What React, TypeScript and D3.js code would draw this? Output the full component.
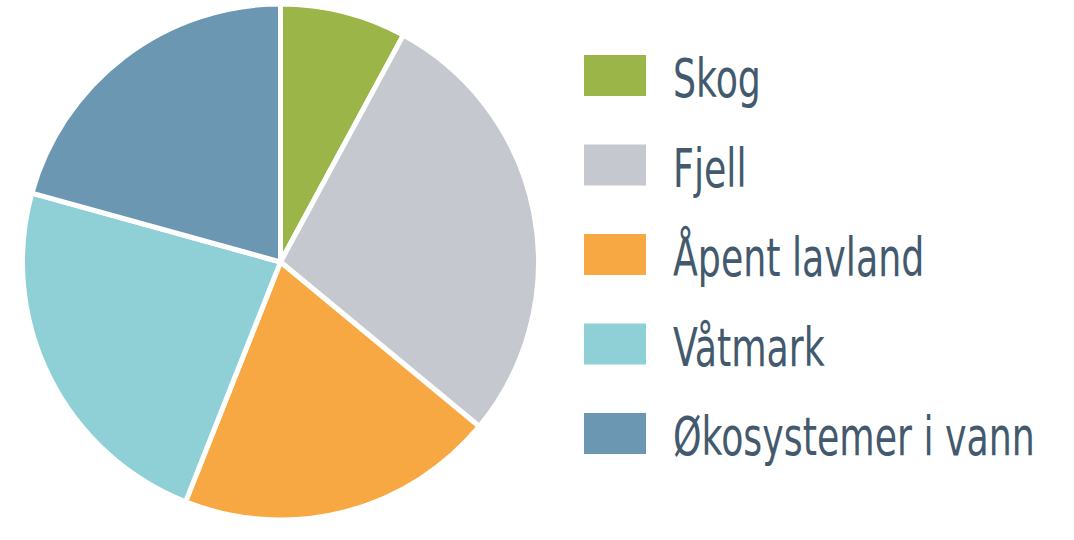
import React, { useLayoutEffect, useRef, useState } from "react";
import * as d3 from "d3";

const categories = ["Skog", "Fjell", "Åpent lavland", "Våtmark", "Økosystemer i vann"];
const values = [7.9, 28.1, 20.0, 23.3, 20.7];
const colors = ["#9bb548", "#c5c9cf", "#f7a843", "#8fd0d6", "#6b97b3"];

export default function App() {
  const width = 1074;
  const height = 540;
  const cx = 280.5;
  const cy = 262;
  const r = 258;
  const data = categories.map((c, i) => ({ name: c, value: values[i], color: colors[i] }));
  const pie = d3.pie<any>().value((d) => d.value).sort(null);
  const arc = d3.arc<any>().innerRadius(0).outerRadius(r);
  const arcs = pie(data);
  const legendY = d3.scaleLinear().domain([0, 4]).range([55, 413]);
  const measureRef = useRef<SVGTextElement>(null);
  const [sx, setSx] = useState(0.75);
  useLayoutEffect(() => {
    if (measureRef.current) {
      const w = measureRef.current.getComputedTextLength();
      if (w > 0) setSx(362 / w);
    }
  }, []);
  const fontFamily = "'DejaVu Sans Condensed', 'Liberation Sans Narrow', sans-serif";
  return (
    <svg width={width} height={height} style={{ position: "absolute", left: 0, top: 0 }}>
      <g transform={`translate(${cx},${cy})`}>
        {arcs.map((a, i) => (
          <path key={i} d={arc(a) as string} fill={a.data.color} stroke="#fff" strokeWidth={5} strokeLinejoin="round" />
        ))}
      </g>
      <text ref={measureRef} x={0} y={-100} fontFamily={fontFamily} fontSize={54} visibility="hidden">
        {categories[4]}
      </text>
      {data.map((d, i) => (
        <g key={i} transform={`translate(584,${legendY(i)})`}>
          <rect x={0} y={0} width={62} height={41} fill={d.color} />
          <g transform={`translate(89,42) scale(${sx},1)`}>
            <text x={0} y={0} fontFamily={fontFamily} fontSize={54} fill="#435a6e">
              {d.name}
            </text>
          </g>
        </g>
      ))}
    </svg>
  );
}
